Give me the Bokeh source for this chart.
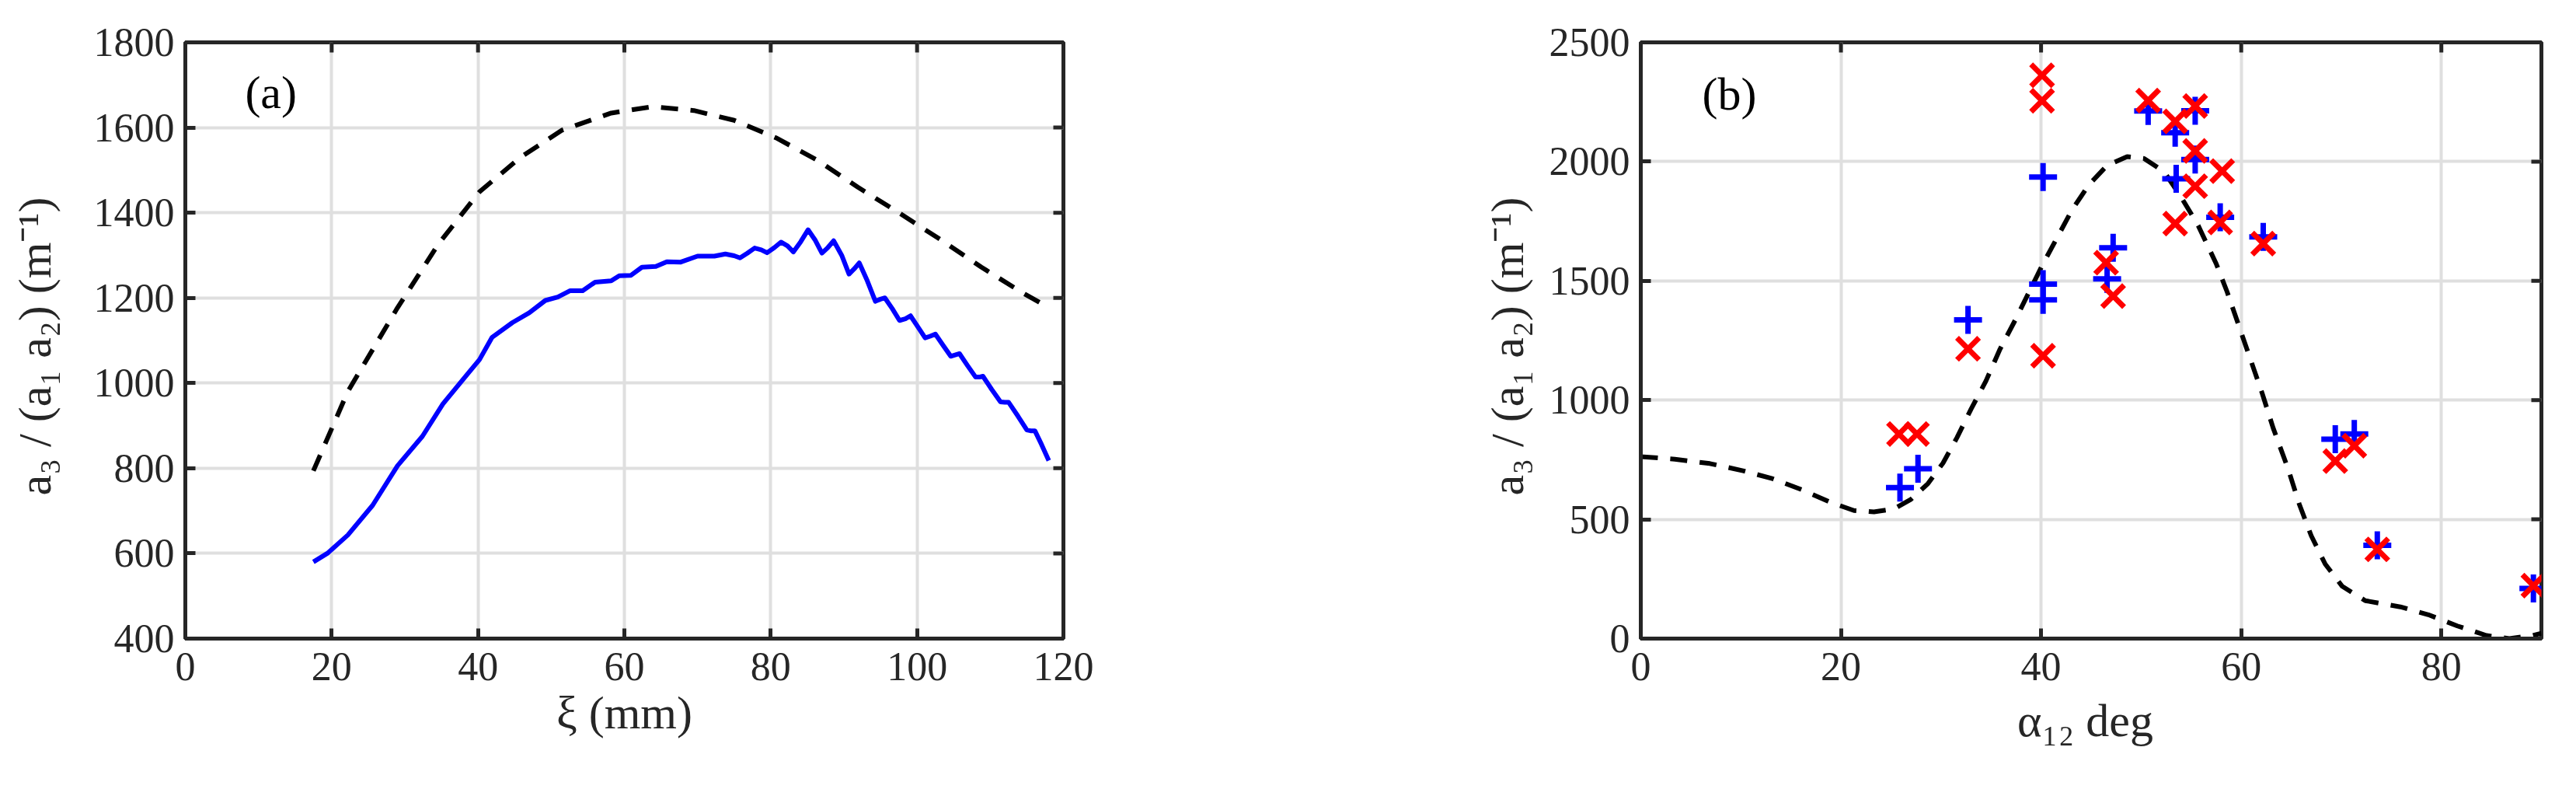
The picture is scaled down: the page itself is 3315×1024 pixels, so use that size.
import math
from bokeh.plotting import figure
from bokeh.layouts import row
from bokeh.models import FixedTicker, Label, Range1d
from bokeh.embed import file_html
from bokeh.resources import INLINE

# ---------------- data: panel (a) ----------------
xi_model = [17.5, 22.2, 29.0, 34.6, 40.2, 45.8, 51.5, 58.2, 63.8, 69.5, 75.0,
            80.7, 86.3, 91.9, 97.5, 103.1, 108.8, 114.4, 118.0]
ratio_model = [794, 980, 1177, 1327, 1449, 1530, 1594, 1634, 1649, 1640, 1617,
               1576, 1524, 1460, 1400, 1338, 1272, 1212, 1177]

xi_meas = [17.5, 19.4, 22.2, 25.6, 29.0, 32.4, 35.2, 38.5, 40.2, 41.9, 44.7,
           47.0, 49.2, 50.9, 52.6, 54.3, 56.0, 58.2, 59.3, 60.9, 62.4, 64.3,
           65.8, 67.7, 70.0, 72.3, 73.8, 75.0, 75.8, 76.8, 77.8, 78.7, 79.5,
           80.5, 81.4, 82.3, 83.1, 84.1, 85.1, 86.1, 87.0, 87.8, 88.6, 89.7,
           90.7, 91.4, 92.1, 93.2, 94.3, 95.0, 95.6, 96.6, 97.6, 98.4, 99.1,
           100.1, 101.1, 101.8, 102.5, 103.5, 104.6, 105.2, 105.8, 106.9, 108.0,
           108.5, 109.0, 110.2, 111.4, 112.0, 112.5, 113.8, 115.0, 115.5, 116.1,
           117.0, 118.0]
ratio_meas = [580, 600, 643, 713, 806, 875, 951, 1020, 1055, 1107, 1142,
              1165, 1194, 1202, 1217, 1217, 1237, 1240, 1252, 1253, 1272, 1274,
              1285, 1284, 1298, 1298, 1303, 1299, 1294, 1305, 1317, 1313, 1306,
              1318, 1331, 1322, 1308, 1332, 1360, 1335, 1305, 1318, 1334, 1300,
              1256, 1268, 1282, 1240, 1192, 1197, 1200, 1175, 1147, 1151, 1158,
              1132, 1106, 1110, 1115, 1090, 1063, 1066, 1069, 1041, 1014,
              1014, 1016, 985, 956, 955, 955, 922, 890, 888, 888,
              856, 818]

xa_ticks = [0, 20, 40, 60, 80, 100, 120]
ya_ticks = [400, 600, 800, 1000, 1200, 1400, 1600, 1800]

# ---------------- data: panel (b) ----------------
alpha_model = [0, 3.4, 6.9, 10.3, 13.2, 16.1, 19.0, 21.3, 23.3, 25.3, 27.0, 28.7,
               30.2, 31.6, 33.0, 34.5, 35.9, 37.4, 38.8, 40.2, 41.4, 43.1, 44.8,
               46.6, 48.6, 50.3, 52.3, 54.0, 55.7, 57.5, 58.6, 59.8, 60.9, 62.1,
               63.2, 64.7, 65.8, 67.0, 68.4, 70.1, 72.4, 75.9, 78.7, 81.6, 84.5,
               86.8, 89.1, 90.0]
ratio_b_model = [763, 752, 734, 703, 670, 624, 571, 537, 531, 544, 584, 650,
                 736, 843, 962, 1081, 1214, 1334, 1453, 1572, 1665, 1798, 1904,
                 1984, 2021, 2013, 1957, 1851, 1732, 1572, 1453, 1307, 1174, 1028,
                 882, 710, 564, 431, 312, 219, 159, 133, 100, 53, 13,
                 0, 13, 22]

alpha_plus = [25.9, 27.7, 32.7, 40.2, 40.2, 40.2, 47.2, 46.6, 50.7, 53.4, 55.4,
              55.4, 53.5, 57.9, 62.2, 69.4, 71.3, 73.6, 89.2]
ratio_plus = [633, 712, 1336, 1935, 1486, 1420, 1639, 1508, 2212, 2121, 2213,
              2009, 1928, 1767, 1684, 836, 858, 391, 210]

alpha_x = [25.8, 27.6, 32.7, 40.1, 40.1, 40.2, 46.5, 47.2, 50.7, 53.4, 55.4,
           55.4, 55.4, 53.4, 58.1, 57.9, 62.2, 69.4, 71.3, 73.6, 89.2]
ratio_x = [858, 858, 1215, 2362, 2255, 1186, 1576, 1436, 2256, 2169, 2233,
           2045, 1897, 1740, 1960, 1745, 1656, 744, 809, 374, 222]

xb_ticks = [0, 20, 40, 60, 80]
yb_ticks = [0, 500, 1000, 1500, 2000, 2500]

FONT = "Liberation Serif"
AX = "#262626"
GRID = "#dfdfdf"
TICK_FS = "52px"
LABEL_FS = "60px"
YLABEL = "a\u2083 / (a\u2081 a\u2082)  (m\u207b\u00b9)"


def style(p, xt, yt, ystand, xstand):
    p.background_fill_color = "white"
    p.border_fill_color = "white"
    p.outline_line_color = AX
    p.outline_line_width = 5
    p.xaxis.ticker = FixedTicker(ticks=xt)
    p.yaxis.ticker = FixedTicker(ticks=yt)
    p.xgrid.ticker = FixedTicker(ticks=xt)
    p.ygrid.ticker = FixedTicker(ticks=yt)
    for g in (p.xgrid[0], p.ygrid[0]):
        g.grid_line_color = GRID
        g.grid_line_width = 4
    for ax in (p.xaxis[0], p.yaxis[0]):
        ax.axis_line_color = AX
        ax.axis_line_width = 5
        ax.major_tick_line_color = AX
        ax.major_tick_line_width = 5
        ax.major_tick_in = 13
        ax.major_tick_out = 0
        ax.minor_tick_line_color = None
        ax.major_label_text_font = FONT
        ax.major_label_text_font_size = TICK_FS
        ax.major_label_text_color = AX
        ax.axis_label_text_font = FONT
        ax.axis_label_text_font_size = LABEL_FS
        ax.axis_label_text_font_style = "normal"
        ax.axis_label_text_color = AX
    p.xaxis[0].major_label_standoff = 18
    p.yaxis[0].major_label_standoff = 14
    p.yaxis[0].axis_label_standoff = ystand
    p.xaxis[0].axis_label_standoff = xstand
    # mirrored inward ticks on the top and right edges of the box
    xr, yr = p.x_range, p.y_range
    p.ray(x=xt, y=[yr.end] * len(xt), length=13, length_units="screen",
          angle=-math.pi / 2, line_color=AX, line_width=5)
    p.ray(x=[xr.end] * len(yt), y=yt, length=13, length_units="screen",
          angle=math.pi, line_color=AX, line_width=5)


# ---------------- panel (a) ----------------
pa = figure(width=1700, height=1000, output_backend="svg", toolbar_location=None,
            x_range=Range1d(0, 120), y_range=Range1d(400, 1800),
            min_border_left=238, min_border_right=332,
            min_border_top=54, min_border_bottom=159)
pa.xaxis.axis_label = "\u03be (mm)"
pa.yaxis.axis_label = YLABEL
style(pa, xa_ticks, ya_ticks, 40, 6)
pa.line(xi_model, ratio_model, line_color="black", line_width=6, line_dash="22 16")
pa.line(xi_meas, ratio_meas, line_color="#0000ff", line_width=6, line_join="round")
pa.add_layout(Label(x=11.7, y=1683, text="(a)", text_align="center",
                    text_baseline="middle", text_font=FONT, text_font_size="60px",
                    text_color="black"))

# ---------------- panel (b) ----------------
pb = figure(width=1595, height=1000, output_backend="svg", toolbar_location=None,
            x_range=Range1d(0, 90), y_range=Range1d(0, 2500),
            min_border_left=411, min_border_right=25,
            min_border_top=41, min_border_bottom=179)
pb.xaxis.axis_label = "\u03b1\u2081\u2082  deg"
pb.yaxis.axis_label = YLABEL
style(pb, xb_ticks, yb_ticks, 18, 16)
pb.line(alpha_model, ratio_b_model, line_color="black", line_width=6, line_dash="22 16")
pb.scatter(alpha_plus, ratio_plus, marker="cross", size=36, line_width=7,
           line_color="#0000ff")
pb.scatter(alpha_x, ratio_x, marker="x", size=40, line_width=7, line_color="#ff0000")
pb.add_layout(Label(x=8.85, y=2282, text="(b)", text_align="center",
                    text_baseline="middle", text_font=FONT, text_font_size="60px",
                    text_color="black"))

layout = row(pa, pb, spacing=0)
open("out.html", "w").write(file_html(layout, INLINE))
